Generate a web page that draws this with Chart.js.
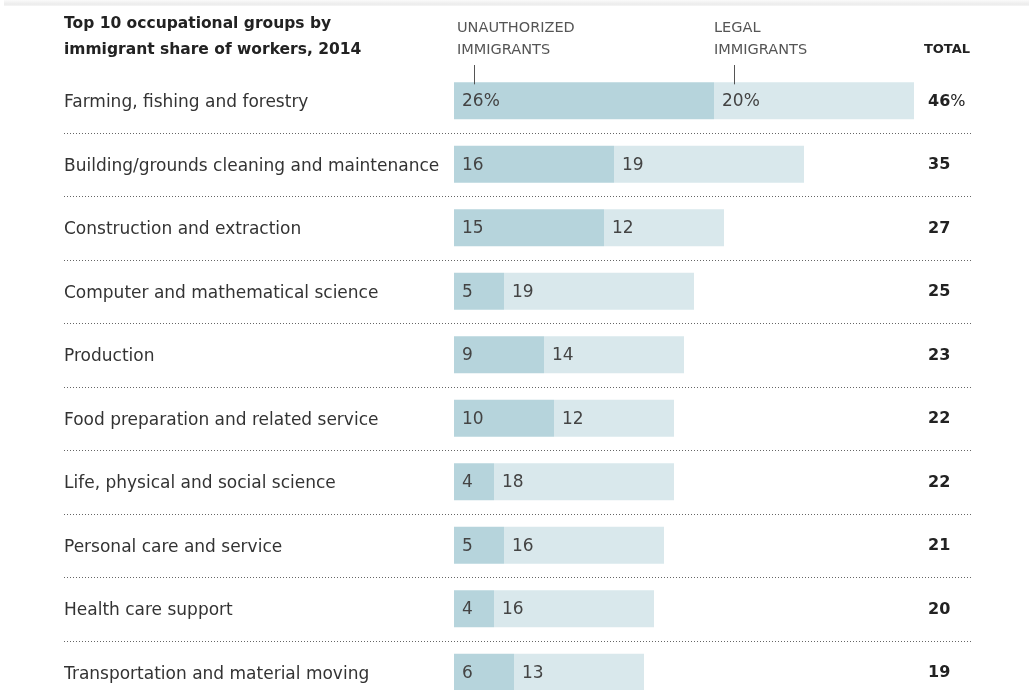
<!DOCTYPE html>
<html>
<head>
<meta charset="utf-8">
<script src="https://cdn.jsdelivr.net/npm/chart.js@4/dist/chart.umd.min.js"></script>
<style>
  html, body { margin: 0; padding: 0; background: #fff; overflow: hidden; }
  #wrap { position: relative; width: 1029px; height: 720px; }
  #topline { position: absolute; left: 4px; right: 0; top: 0; height: 6px;
    background: linear-gradient(#fafafa, #ececec 70%, #f6f6f6); }
</style>
</head>
<body>
<div id="wrap">
  <div id="topline"></div>
  <canvas id="chart" width="1029" height="720"></canvas>
</div>
<script>
// data
const groups = [
  "Farming, fishing and forestry",
  "Building/grounds cleaning and maintenance",
  "Construction and extraction",
  "Computer and mathematical science",
  "Production",
  "Food preparation and related service",
  "Life, physical and social science",
  "Personal care and service",
  "Health care support",
  "Transportation and material moving",
];
const unauthorized = [26, 16, 15, 5, 9, 10, 4, 5, 4, 6];
const legal = [20, 19, 12, 19, 14, 12, 18, 16, 16, 13];
const totals = [46, 35, 27, 25, 23, 22, 22, 21, 20, 19];
const titleLines = ["Top 10 occupational groups by", "immigrant share of workers, 2014"];

const FONT = "'DejaVu Sans', sans-serif";

// draws titles, headers, bar values, totals and dotted separators
const extras = {
  id: "extras",
  afterDatasetsDraw(chart) {
    const { ctx, chartArea, scales } = chart;
    const x = scales.x;
    const y = scales.y;
    ctx.save();

    // title
    ctx.fillStyle = "#222";
    ctx.font = "bold 15.5px " + FONT;
    ctx.textAlign = "left";
    ctx.textBaseline = "middle";
    ctx.fillText(titleLines[0], 64, 24);
    ctx.fillText(titleLines[1], 64, 50);

    // column headers
    ctx.fillStyle = "#555";
    ctx.font = "14.5px " + FONT;
    ctx.fillText("UNAUTHORIZED", x.getPixelForValue(0) + 3, 28);
    ctx.fillText("IMMIGRANTS", x.getPixelForValue(0) + 3, 50);
    ctx.fillText("LEGAL", x.getPixelForValue(unauthorized[0]), 28);
    ctx.fillText("IMMIGRANTS", x.getPixelForValue(unauthorized[0]), 50);
    ctx.fillStyle = "#222";
    ctx.font = "bold 13px " + FONT;
    ctx.textAlign = "right";
    ctx.fillText("TOTAL", chartArea.right, 50);

    // pointer ticks
    const barTop = chart.getDatasetMeta(0).data[0];
    const topY = barTop.y - barTop.height / 2 + 2;
    ctx.strokeStyle = "#555";
    ctx.lineWidth = 1;
    [2, unauthorized[0] + 2].forEach(function (v) {
      const px = Math.round(x.getPixelForValue(v)) + 0.5;
      ctx.beginPath();
      ctx.moveTo(px, 65);
      ctx.lineTo(px, topY);
      ctx.stroke();
    });

    // values inside bars
    ctx.textAlign = "left";
    ctx.fillStyle = "#444";
    ctx.font = "17px " + FONT;
    [unauthorized, legal].forEach(function (vals, di) {
      const meta = chart.getDatasetMeta(di);
      meta.data.forEach(function (bar, i) {
        const txt = i === 0 ? vals[i] + "%" : String(vals[i]);
        ctx.fillText(txt, bar.base + 8, bar.y + 1);
      });
    });

    // totals
    ctx.textAlign = "left";
    ctx.fillStyle = "#222";
    const tx = chartArea.right - 42;
    totals.forEach(function (t, i) {
      const yy = y.getPixelForValue(i) + 1;
      ctx.font = "bold 16px " + FONT;
      ctx.fillText(String(t), tx, yy);
      if (i === 0) {
        const w = ctx.measureText(String(t)).width;
        ctx.font = "16px " + FONT;
        ctx.fillText("%", tx + w, yy);
      }
    });

    // dotted separators
    ctx.strokeStyle = "#666";
    ctx.setLineDash([1, 2]);
    for (let i = 0; i < groups.length - 1; i++) {
      const yy = Math.round((y.getPixelForValue(i) + y.getPixelForValue(i + 1)) / 2) + 0.5;
      ctx.beginPath();
      ctx.moveTo(64, yy);
      ctx.lineTo(chartArea.right + 2, yy);
      ctx.stroke();
    }
    ctx.restore();
  },
};

const ctx = document.querySelector("#chart").getContext("2d");
const myChart = new Chart(ctx, {
  type: "bar",
  data: {
    labels: groups,
    datasets: [
      {
        label: "Unauthorized immigrants",
        data: unauthorized,
        backgroundColor: "#b6d4dc",
        barPercentage: 0.58,
        categoryPercentage: 1,
      },
      {
        label: "Legal immigrants",
        data: legal,
        backgroundColor: "#d9e8ec",
        barPercentage: 0.58,
        categoryPercentage: 1,
      },
    ],
  },
  options: {
    indexAxis: "y",
    responsive: false,
    animation: false,
    layout: { padding: { left: 64, right: 59, top: 69, bottom: 16 } },
    plugins: {
      legend: { display: false },
      tooltip: { enabled: false },
    },
    scales: {
      x: {
        stacked: true,
        min: 0,
        max: 51.6,
        display: false,
      },
      y: {
        stacked: true,
        grid: { display: false },
        border: { display: false },
        ticks: {
          crossAlign: "far",
          color: "#333",
          font: { family: FONT, size: 17 },
          padding: 0,
          labelOffset: 2,
        },
        afterFit(scale) {
          scale.width = 390;
        },
      },
    },
  },
  plugins: [extras],
});
</script>
</body>
</html>
